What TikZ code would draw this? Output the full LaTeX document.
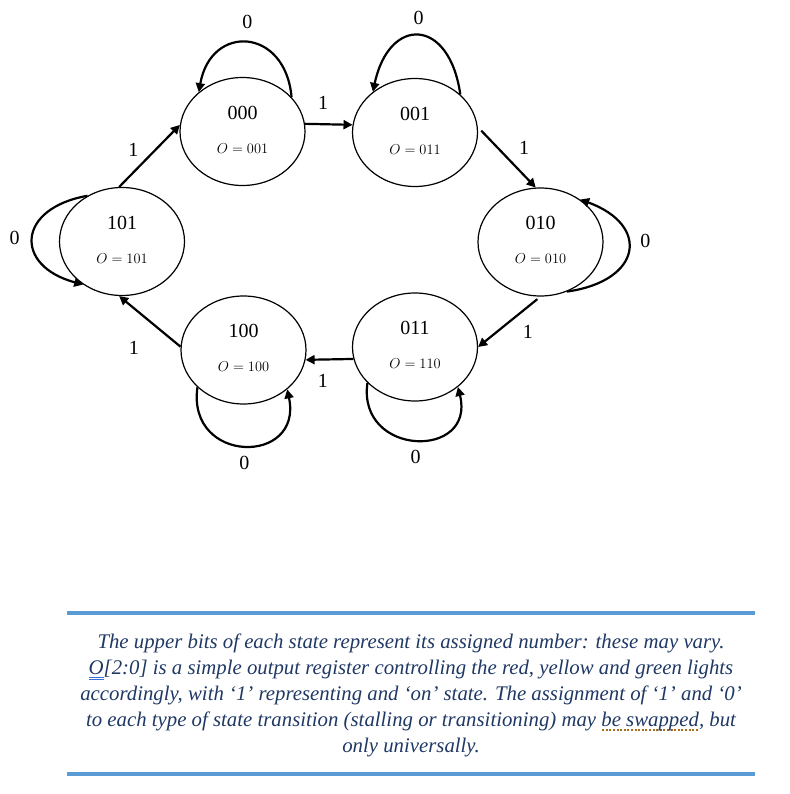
\documentclass[tikz,border=0pt]{standalone}
\usepackage{fontspec}
\setmainfont{Liberation Serif}
\usetikzlibrary{arrows.meta,shapes.geometric,positioning}
\definecolor{notenavy}{HTML}{1F3864}
\definecolor{barblue}{HTML}{5B9BD5}
\definecolor{ulblue}{HTML}{3A6FD8}
\definecolor{spellbrown}{HTML}{A86E1A}
\tikzset{>={Triangle[length=9pt,width=9pt]}}
\newcommand\sttext[2]{\fontsize{20}{24}\selectfont\begin{tabular}{@{}c@{}}#1\\[10pt]{\fontsize{14}{14}\selectfont$O=#2$}\end{tabular}}
\newcommand\dblul[1]{\setbox0\hbox{#1}\rlap{\color{ulblue}\rule[-3.5pt]{\wd0}{0.8pt}}\rlap{\color{ulblue}\rule[-6pt]{\wd0}{0.8pt}}\box0}
\newcommand\dotul[1]{\setbox0\hbox{#1}\rlap{\color{spellbrown}\hbox to\wd0{\leaders\hbox to 3.6pt{\hss\rule[-5pt]{2pt}{2pt}\hss}\hfill}}\box0}

\begin{document}
\begin{tikzpicture}[x=1pt,y=1pt,
    stnode/.style={draw,ellipse,line width=1.2pt,minimum width=125pt,minimum height=108pt,inner sep=0pt},
    arr/.style={->,line width=2.2pt},
    lbl/.style={font=\fontsize{20}{24}\selectfont,inner sep=3pt},
    rulebar/.style={barblue,line width=4.5pt},
    note/.style={align=center,text=notenavy,font=\itshape\fontsize{20.8}{26}\selectfont}]
    \useasboundingbox (0,0) rectangle (789,-794);
    % states
    \node[stnode] (s000) at (242.5,-131.5) {\sttext{000}{001}};
    \node[stnode] (s001) at (415,-132.5) {\sttext{001}{011}};
    \node[stnode] (s010) at (540.5,-242) {\sttext{010}{010}};
    \node[stnode] (s011) at (415,-347) {\sttext{011}{110}};
    \node[stnode] (s100) at (243.5,-350) {\sttext{100}{100}};
    \node[stnode] (s101) at (122,-241.5) {\sttext{101}{101}};
    % transitions
    \draw[arr] (s000.7) -- node[lbl,pos=.38,above=11pt] (t1) {1} (s001.173);
    \draw[arr,shorten <=5pt] (s001.5) -- node[lbl,pos=.35,right=17pt] (t2) {1} (s010.95);
    \draw[arr,shorten <=4pt] (s010.south) -- node[lbl,pos=.7,right=22pt] (t3) {1} (s011.east);
    \draw[arr] (s011.191) -- node[lbl,pos=.64,below=11pt] (t4) {1} (s100.-9);
    \draw[arr] (s100.177) -- node[lbl,pos=.35,below left=8pt and 16pt] (t5) {1} (s101.267);
    \draw[arr] (s101.93) -- node[lbl,pos=.6,left=13pt] (t6) {1} (s000.174);
    % stalling loops
    \draw[arr] (s000.35) .. controls +(95:70) and +(80:70) .. (s000.138) node[lbl,pos=.5,above=10pt] (w000) {0};
    \draw[arr] (s001.40.8) .. controls +(98:78) and +(78:78) .. (s001.136.5) node[lbl,pos=.5,above=7pt] (w001) {0};
    \draw[arr] (s010.-62) .. controls +(8:76) and +(-20:75) .. (s010.47.8) node[lbl,pos=.5,right=8pt,yshift=10pt] (w010) {0};
    \draw[arr] (s011.217.5) .. controls +(262:75) and +(284:75) .. (s011.-43.7) node[lbl,pos=.5,below=6pt] (w011) {0};
    \draw[arr] (s100.219) .. controls +(262:78) and +(282:78) .. (s100.-42) node[lbl,pos=.5,below=6pt] (w100) {0};
    \draw[arr] (s101.127) .. controls +(190:72) and +(165:72) .. (s101.228) node[lbl,pos=.5,left=9pt] (w101) {0};
    % note
    \draw[rulebar] (67,-613) -- (755,-613);
    \draw[rulebar] (67,-774) -- (755,-774);
    \node[note] (notetext) at (411,-695) {The upper bits of each state represent its assigned number: these may vary.\\
      \dblul{O}[2:0] is a simple output register controlling the red, yellow and green lights\\
      accordingly, with ‘1’ representing and ‘on’ state. The assignment of ‘1’ and ‘0’\\
      to each type of state transition (stalling or transitioning) may \dotul{be swapped}, but\\
      only universally.};
\end{tikzpicture}
\end{document}
